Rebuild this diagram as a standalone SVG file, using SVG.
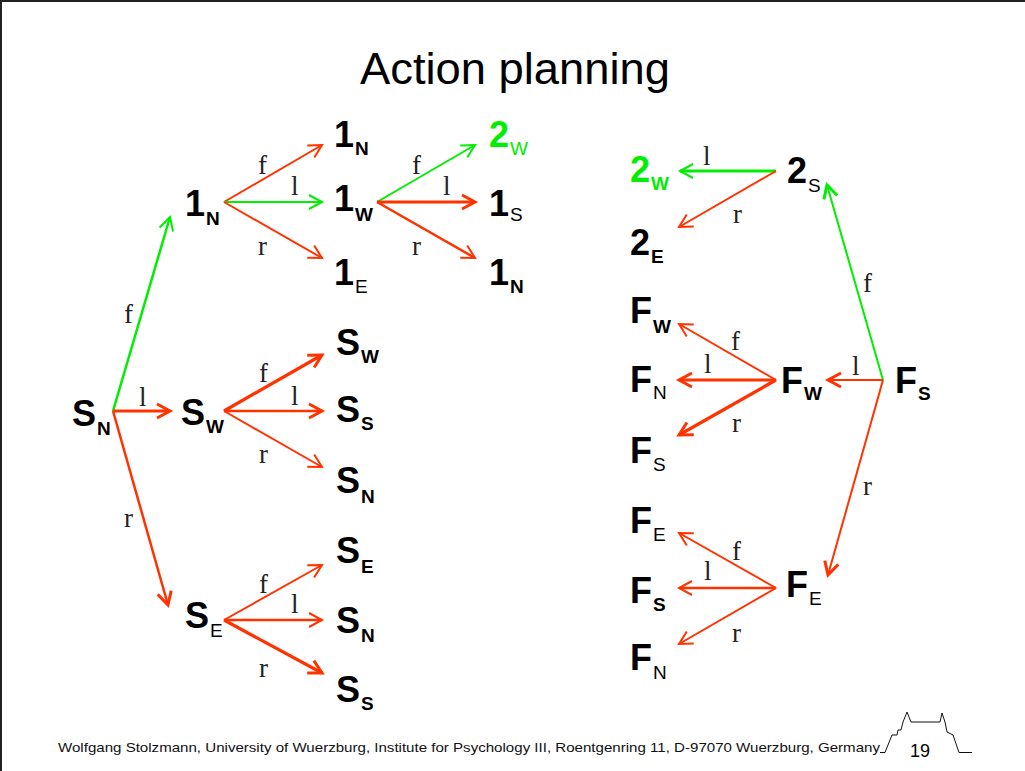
<svg xmlns="http://www.w3.org/2000/svg" width="1025" height="771" viewBox="0 0 1025 771">
<style>
.n{font-family:"Liberation Sans",Arial,sans-serif;font-weight:bold;font-size:36px;fill:#000}
.g{fill:#00EE00}
.sb{font-size:19px;font-weight:bold}
.sr{font-size:19px;font-weight:normal}
.lb{font-family:"Liberation Serif","Times New Roman",serif;font-size:27px;fill:#222}
.r2{stroke:#FF3300;stroke-width:2;fill:none}
.r25{stroke:#FF3300;stroke-width:2.5;fill:none}
.r3{stroke:#FF3300;stroke-width:3.2;fill:none}
.g2{stroke:#00EE00;stroke-width:2;fill:none}
.g25{stroke:#00EE00;stroke-width:2.5;fill:none}
.g3{stroke:#00EE00;stroke-width:3;fill:none}
</style>
<defs>
<marker id="mR2" viewBox="-16 -10 20 20" refX="0" refY="0" markerWidth="20" markerHeight="20" markerUnits="userSpaceOnUse" orient="auto"><path d="M-13,-7 L0,0 L-13,7" fill="none" stroke="#FF3300" stroke-width="2"/></marker>
<marker id="mR3" viewBox="-16 -10 20 20" refX="0" refY="0" markerWidth="20" markerHeight="20" markerUnits="userSpaceOnUse" orient="auto"><path d="M-13,-7 L0,0 L-13,7" fill="none" stroke="#FF3300" stroke-width="3"/></marker>
<marker id="mG2" viewBox="-16 -10 20 20" refX="0" refY="0" markerWidth="20" markerHeight="20" markerUnits="userSpaceOnUse" orient="auto"><path d="M-13,-7 L0,0 L-13,7" fill="none" stroke="#00EE00" stroke-width="2"/></marker>
<marker id="mG3" viewBox="-16 -10 20 20" refX="0" refY="0" markerWidth="20" markerHeight="20" markerUnits="userSpaceOnUse" orient="auto"><path d="M-13,-7 L0,0 L-13,7" fill="none" stroke="#00EE00" stroke-width="3"/></marker>
</defs>
<rect x="0" y="0" width="1025" height="771" fill="#fff"/>
<path d="M1,771 L1,1 L1025,1" fill="none" stroke="#222" stroke-width="2"/>
<text x="360" y="84" font-family="'Liberation Sans',Arial,sans-serif" font-size="44" fill="#000" textLength="310" lengthAdjust="spacingAndGlyphs">Action planning</text>

<g id="connectors">
<line class="g25" x1="113" y1="411" x2="170" y2="217" marker-end="url(#mG2)"/>
<line class="r3" x1="113" y1="411" x2="170" y2="411" marker-end="url(#mR3)"/>
<line class="r25" x1="113" y1="411" x2="168" y2="605" marker-end="url(#mR3)"/>
<line class="r2" x1="224" y1="202" x2="322" y2="145" marker-end="url(#mR2)"/>
<line class="g2" x1="224" y1="202" x2="322" y2="202" marker-end="url(#mG2)"/>
<line class="r2" x1="224" y1="202" x2="322" y2="258" marker-end="url(#mR2)"/>
<line class="g2" x1="377" y1="202" x2="475" y2="145" marker-end="url(#mG2)"/>
<line class="r3" x1="377" y1="202" x2="475" y2="202" marker-end="url(#mR3)"/>
<line class="r25" x1="377" y1="202" x2="475" y2="258" marker-end="url(#mR2)"/>
<line class="r3" x1="224" y1="411" x2="322" y2="355" marker-end="url(#mR3)"/>
<line class="r25" x1="224" y1="411" x2="322" y2="411" marker-end="url(#mR3)"/>
<line class="r2" x1="224" y1="411" x2="322" y2="467" marker-end="url(#mR2)"/>
<line class="r2" x1="224" y1="620" x2="322" y2="565" marker-end="url(#mR2)"/>
<line class="r25" x1="224" y1="620" x2="322" y2="620" marker-end="url(#mR2)"/>
<line class="r3" x1="224" y1="620" x2="322" y2="673" marker-end="url(#mR3)"/>
<line class="g3" x1="776" y1="171" x2="680" y2="171" marker-end="url(#mG2)"/>
<line class="r2" x1="776" y1="171" x2="679" y2="227" marker-end="url(#mR2)"/>
<line class="g2" x1="883" y1="380" x2="827" y2="185" marker-end="url(#mG3)"/>
<line class="r2" x1="883" y1="380" x2="828" y2="380" marker-end="url(#mR3)"/>
<line class="r2" x1="883" y1="380" x2="828" y2="575" marker-end="url(#mR3)"/>
<line class="r2" x1="776" y1="380" x2="679" y2="324" marker-end="url(#mR2)"/>
<line class="r3" x1="776" y1="380" x2="679" y2="380" marker-end="url(#mR3)"/>
<line class="r3" x1="776" y1="380" x2="679" y2="435" marker-end="url(#mR3)"/>
<line class="r2" x1="776" y1="588" x2="679" y2="533" marker-end="url(#mR2)"/>
<line class="r25" x1="776" y1="588" x2="679" y2="588" marker-end="url(#mR2)"/>
<line class="r2" x1="776" y1="588" x2="679" y2="644" marker-end="url(#mR2)"/>
</g>

<g id="edge-labels">
<text class="lb" x="124" y="323">f</text>
<text class="lb" x="139" y="406">l</text>
<text class="lb" x="124" y="527">r</text>
<text class="lb" x="258" y="174">f</text>
<text class="lb" x="291" y="195">l</text>
<text class="lb" x="258" y="255">r</text>
<text class="lb" x="412" y="174">f</text>
<text class="lb" x="443" y="195">l</text>
<text class="lb" x="412" y="255">r</text>
<text class="lb" x="259" y="382">f</text>
<text class="lb" x="291" y="405">l</text>
<text class="lb" x="259" y="463">r</text>
<text class="lb" x="259" y="593">f</text>
<text class="lb" x="291" y="613">l</text>
<text class="lb" x="259" y="677">r</text>
<text class="lb" x="703" y="165">l</text>
<text class="lb" x="733" y="223">r</text>
<text class="lb" x="863" y="292">f</text>
<text class="lb" x="852" y="375">l</text>
<text class="lb" x="863" y="495">r</text>
<text class="lb" x="731" y="350">f</text>
<text class="lb" x="704" y="373">l</text>
<text class="lb" x="732" y="432">r</text>
<text class="lb" x="732" y="560">f</text>
<text class="lb" x="704" y="580">l</text>
<text class="lb" x="732" y="642">r</text>
</g>

<g id="n-SN"><text class="n" x="72" y="426">S<tspan class="sb" dy="9" dx="1">N</tspan></text></g>
<g id="n-SW"><text class="n" x="181" y="425">S<tspan class="sb" dy="8" dx="1">W</tspan></text></g>
<g id="n-SE"><text class="n" x="185" y="628">S<tspan class="sr" dy="9" dx="1">E</tspan></text></g>
<g id="n-1N"><text class="n" x="185" y="216">1<tspan class="sb" dy="9" dx="1">N</tspan></text></g>
<g id="n-1N-f"><text class="n" x="334" y="147">1<tspan class="sb" dy="8" dx="1">N</tspan></text></g>
<g id="n-1W"><text class="n" x="334" y="211">1<tspan class="sb" dy="10" dx="1">W</tspan></text></g>
<g id="n-1E"><text class="n" x="334" y="285">1<tspan class="sr" dy="8" dx="1">E</tspan></text></g>
<g id="n-2W-a"><text class="n g" x="489" y="147">2<tspan class="sr" dy="8" dx="1">W</tspan></text></g>
<g id="n-1S"><text class="n" x="489" y="216">1<tspan class="sr" dy="5" dx="1">S</tspan></text></g>
<g id="n-1N-r"><text class="n" x="489" y="285">1<tspan class="sb" dy="8" dx="1">N</tspan></text></g>
<g id="n-SW-f"><text class="n" x="336" y="355">S<tspan class="sb" dy="8" dx="1">W</tspan></text></g>
<g id="n-SS-l"><text class="n" x="336" y="422">S<tspan class="sb" dy="8" dx="1">S</tspan></text></g>
<g id="n-SN-r"><text class="n" x="336" y="493">S<tspan class="sb" dy="10" dx="1">N</tspan></text></g>
<g id="n-SE-f"><text class="n" x="336" y="563">S<tspan class="sb" dy="10" dx="1">E</tspan></text></g>
<g id="n-SN-l"><text class="n" x="336" y="633">S<tspan class="sb" dy="9" dx="1">N</tspan></text></g>
<g id="n-SS-r"><text class="n" x="336" y="702">S<tspan class="sb" dy="8" dx="1">S</tspan></text></g>

<g id="n-2W-b"><text class="n g" x="630" y="182">2<tspan class="sb" dy="8" dx="1">W</tspan></text></g>
<g id="n-2S"><text class="n" x="787" y="183">2<tspan class="sr" dy="9" dx="1">S</tspan></text></g>
<g id="n-2E"><text class="n" x="630" y="255">2<tspan class="sb" dy="8" dx="1">E</tspan></text></g>
<g id="n-FW-a"><text class="n" x="630" y="323">F<tspan class="sb" dy="10" dx="1">W</tspan></text></g>
<g id="n-FN-a"><text class="n" x="630" y="392">F<tspan class="sr" dy="7" dx="1">N</tspan></text></g>
<g id="n-FS-a"><text class="n" x="630" y="463">F<tspan class="sr" dy="8" dx="1">S</tspan></text></g>
<g id="n-FE-a"><text class="n" x="630" y="533">F<tspan class="sr" dy="8" dx="1">E</tspan></text></g>
<g id="n-FS-b"><text class="n" x="630" y="603">F<tspan class="sb" dy="8" dx="1">S</tspan></text></g>
<g id="n-FN-b"><text class="n" x="630" y="670">F<tspan class="sr" dy="9" dx="1">N</tspan></text></g>
<g id="n-FW"><text class="n" x="781" y="393">F<tspan class="sb" dy="7" dx="1">W</tspan></text></g>
<g id="n-FS"><text class="n" x="895" y="393">F<tspan class="sb" dy="7" dx="1">S</tspan></text></g>
<g id="n-FE"><text class="n" x="786" y="597">F<tspan class="sr" dy="8" dx="1">E</tspan></text></g>

<g id="footer">
<text x="58" y="752" font-family="'Liberation Sans',Arial,sans-serif" font-size="13" fill="#111" textLength="822" lengthAdjust="spacingAndGlyphs">Wolfgang Stolzmann, University of Wuerzburg, Institute for Psychology III, Roentgenring 11, D-97070 Wuerzburg, Germany</text>
<path d="M880,752.5 L885,752.5 L892,735 L897,735 L898,730 L901,730 L903,722 L907,712 L911,722 L940,722 L942,713 L945,722 L947,732 L953,735 L959,752.5 L972,752.5" fill="none" stroke="#111" stroke-width="1"/>
<text x="910" y="757" font-family="'Liberation Sans',Arial,sans-serif" font-size="18" fill="#000">19</text>
</g>
</svg>
